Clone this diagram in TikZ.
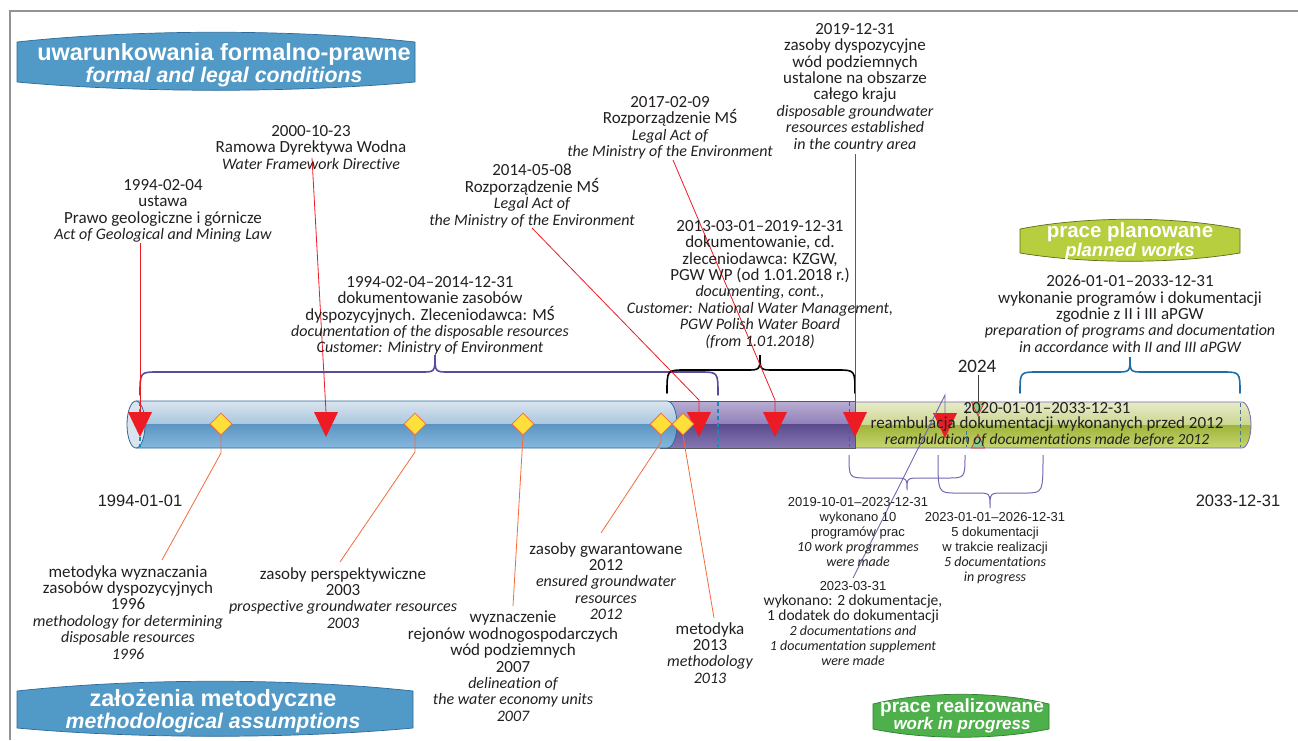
\documentclass[tikz,border=0pt]{standalone}
\usepackage{fontspec}
\setmainfont{Carlito}[Ligatures=NoCommon]
\newfontfamily\arialf{Liberation Sans}
\usetikzlibrary{shapes.geometric}
\definecolor{txtc}{HTML}{231F20}
\definecolor{redc}{HTML}{ED1C24}
\definecolor{yelc}{HTML}{FFE03A}
\definecolor{orgc}{HTML}{F26B3A}
\definecolor{purc}{HTML}{5B4A9E}
\definecolor{lpurc}{HTML}{7566B0}
\definecolor{bluebr}{HTML}{1F6EA6}
\definecolor{ttlblue}{HTML}{5199C6}
\definecolor{ttlblueb}{HTML}{2D6A99}
\definecolor{planc}{HTML}{B7CE3F}
\definecolor{plancb}{HTML}{5E6B1A}
\definecolor{progc}{HTML}{4DB04A}
\definecolor{progcb}{HTML}{2E7D32}
\definecolor{hgc}{HTML}{8CC98A}
\definecolor{bu1}{HTML}{D9E4EE}\definecolor{bu2}{HTML}{A9C6DE}
\definecolor{bl1}{HTML}{5C95C3}\definecolor{bl2}{HTML}{86B8DE}
\definecolor{pu1}{HTML}{B9AED3}\definecolor{pu2}{HTML}{8F80B8}
\definecolor{pl1}{HTML}{5B4C8E}\definecolor{pl2}{HTML}{8676B3}
\definecolor{gu1}{HTML}{E8EBC8}\definecolor{gu2}{HTML}{CBD690}
\definecolor{gl1}{HTML}{9EB43A}\definecolor{gl2}{HTML}{C8D873}
\newcommand\barrelpath[4]{({#1},{#2+11}) .. controls ({#1+0.3*(#3-#1)},{#2-2}) and ({#1+0.7*(#3-#1)},{#2-2}) .. ({#3},{#2+11}) -- ({#3},{#4-9}) .. controls ({#1+0.7*(#3-#1)},{#4+2}) and ({#1+0.3*(#3-#1)},{#4+2}) .. ({#1},{#4-9}) -- cycle}
\newcommand\bracepath[7]{\draw[#1] ({#2},{#5}) .. controls ({#2},{#6}) .. ({#2+18},{#6}) -- ({#4-14},{#6}) .. controls ({#4},{#6}) .. ({#4},{#7}) .. controls ({#4},{#6}) .. ({#4+14},{#6}) -- ({#3-18},{#6}) .. controls ({#3},{#6}) .. ({#3},{#5});}
\newcommand\redtri[2]{\fill[redc] ({#1-12},{#2}) -- ({#1+12},{#2}) -- ({#1},{#2+25}) -- cycle;}
\newcommand\itl[1]{{\fontsize{16}{16.4}\selectfont\itshape #1}}
\newcommand\its[1]{{\fontsize{14}{15}\selectfont\itshape #1}}
\newcommand\ars[1]{{\arialf\fontsize{13}{15}\selectfont #1}}
\begin{document}
\begin{tikzpicture}[x=1pt,y=-1pt,
  lbl/.style={text=txtc, align=center, inner sep=0pt, anchor=north, font=\fontsize{17}{16.4}\selectfont},
  lbls/.style={lbl, font=\fontsize{15.5}{15}\selectfont},
  redln/.style={draw=redc, line width=0.8pt},
  orln/.style={draw=orgc, line width=0.8pt},
  purln/.style={draw=lpurc, line width=0.9pt},
  dia/.style={diamond, fill=yelc, draw=orgc, line width=0.8pt, inner sep=0pt, minimum width=22pt, minimum height=22pt},
  brace/.style={line width=1.6pt, line cap=round},
  ttl/.style={text=white, align=center, inner sep=0pt, font=\arialf\bfseries\fontsize{23.5}{22}\selectfont},
  dline/.style={dashed, dash pattern=on 4pt off 3pt},
]
\useasboundingbox (0,0) rectangle (1298,740);
% frame
\draw[gray!85, line width=1.6pt] (10,740) -- (10,11) -- (1298,11);

% title boxes
\filldraw[fill=ttlblue, draw=ttlblueb, line width=0.7pt] \barrelpath{17}{31}{415}{91};
\node[ttl] (ttlA) at (224,65) {uwarunkowania formalno-prawne\\{\fontsize{21.3}{22}\selectfont\itshape formal and legal conditions}};
\filldraw[fill=ttlblue, draw=ttlblueb, line width=0.7pt] \barrelpath{17}{680}{413}{737};
\node[ttl] (ttlB) at (213,711) {założenia metodyczne\\{\fontsize{21.3}{22}\selectfont\itshape methodological assumptions}};
\filldraw[fill=planc, draw=plancb, line width=0.7pt] \barrelpath{1020}{218}{1240}{262};
\node[ttl, font=\arialf\bfseries\fontsize{20.5}{19.5}\selectfont] (ttlC) at (1130,241.5) {prace planowane\\{\fontsize{18.5}{19.5}\selectfont\itshape planned works}};
\filldraw[fill=progc, draw=progcb, line width=0.7pt] \barrelpath{873}{693}{1049}{738};
\node[ttl, font=\arialf\bfseries\fontsize{19}{17}\selectfont] (ttlD) at (962,716) {prace realizowane\\{\fontsize{17}{17}\selectfont\itshape work in progress}};

% green tube
\begin{scope}
\clip (850,402) -- (1242,402) .. controls (1247,402) and (1251,413) .. (1251,425) .. controls (1251,437) and (1247,448) .. (1242,448) -- (850,448) -- cycle;
\shade[top color=gu1, bottom color=gu2] (840,402) rectangle (1260,425);
\shade[top color=gl1, bottom color=gl2] (840,425) rectangle (1260,449);
\end{scope}
\draw[lpurc, line width=0.8pt] (850,402) -- (1242,402) .. controls (1247,402) and (1251,413) .. (1251,425) .. controls (1251,437) and (1247,448) .. (1242,448) -- (850,448);
% purple tube
\begin{scope}
\clip (660,401) rectangle (855,448);
\shade[top color=pu1, bottom color=pu2] (655,401) rectangle (860,424.5);
\shade[top color=pl1, bottom color=pl2] (655,424.5) rectangle (860,448);
\end{scope}
\draw[gray!70!black, line width=0.8pt] (660,401) -- (855,401) -- (855,448) -- (660,448);
% blue tube
\begin{scope}
\clip (136,401) -- (667,401) .. controls (673,401) and (677,412) .. (677,424.5) .. controls (677,437) and (673,448) .. (667,448) -- (136,448) -- cycle;
\shade[top color=bu1, bottom color=bu2] (130,401) rectangle (680,424.5);
\shade[top color=bl1, bottom color=bl2] (130,424.5) rectangle (680,448);
\end{scope}
\draw[ttlblueb, line width=0.8pt] (136,401) -- (667,401) .. controls (673,401) and (677,412) .. (677,424.5) .. controls (677,437) and (673,448) .. (667,448) -- (136,448);
\filldraw[fill=bu1, draw=ttlblueb, line width=0.8pt] (136,424.5) ellipse [x radius=9, y radius=23.5];

% dashed marks in the tube
\draw[draw=bluebr!80!cyan, line width=1.5pt, dline] (140,402) -- (140,447);
\draw[draw=bluebr!80!cyan, line width=1.5pt, dline] (718,402) -- (718,447);
\draw[draw=bluebr, line width=1pt, dline] (849,402) -- (849,447);
\draw[draw=bluebr!60!gray, line width=1pt, dline] (966,403) -- (966,447);
\draw[draw=bluebr!60!gray, line width=1pt, dline] (1240,403) -- (1240,447);

% braces
\bracepath{brace, purc}{140}{718}{435}{395}{372}{355}
\bracepath{brace, black}{667}{855}{760}{393}{370}{355}
\bracepath{brace, bluebr}{1020}{1240}{1130}{393}{372}{357}
\bracepath{lpurc, line width=1pt}{849}{965}{907}{455}{478}{490}
\bracepath{lpurc, line width=1pt}{938}{1043}{990}{455}{493}{508}

% red triangles (named top points)
\coordinate (t1) at (140,412); \redtri{140}{412}
\coordinate (t2) at (326,412); \redtri{326}{412}
\coordinate (t3) at (699,412); \redtri{699}{412}
\coordinate (t4) at (775,412); \redtri{775}{412}
\coordinate (t5) at (855,412); \redtri{855}{412}
\coordinate (t6) at (945,413); \redtri{945}{413}

% 2024 hourglass
\coordinate (h1) at (978,402);
\filldraw[fill=hgc, draw=redc, line width=0.6pt] (971.5,402) -- (984.5,402) -- (978,416) -- cycle;
\filldraw[fill=hgc, draw=redc, line width=0.6pt] (971.5,448) -- (984.5,448) -- (978,434) -- cycle;

% diamonds
\node[dia] (d1) at (221,424) {};
\node[dia] (d2) at (415,424) {};
\node[dia] (d3) at (523,424) {};
\node[dia] (d4) at (661,424) {};
\node[dia] (d5) at (683,424) {};

% connector end points
\coordinate (a1) at (140,243);
\coordinate (a2) at (312,158);
\coordinate (a3) at (532,228);
\coordinate (a3b) at (699,400);
\coordinate (a4) at (673,160);
\coordinate (a4b) at (775,400);
\coordinate (a5) at (855,154);
\coordinate (a6) at (853,578);
\coordinate (a6b) at (945,395);
\coordinate (a7) at (978,375);
\coordinate (b1k) at (221,453); \coordinate (b1) at (162,560);
\coordinate (b2k) at (415,452); \coordinate (b2) at (340,562);
\coordinate (b3) at (513,606);
\coordinate (b4k) at (661,442); \coordinate (b4) at (601,533);
\coordinate (b5) at (714,618);

\draw[redln] (a1) -- (t1);
\draw[redln] (a2) -- (t2);
\draw[redln] (a3) -- (a3b) -- (t3);
\draw[redln] (a4) -- (a4b) -- (t4);
\draw[redln] (a5) -- (t5);
\draw[gray!50!black, line width=0.8pt] (a7) -- (h1);
\draw[orln] (d1.south) -- (b1k) -- (b1);
\draw[orln] (d2.south) -- (b2k) -- (b2);
\draw[orln] (d3.south) -- (b3);
\draw[orln] (d4.south) -- (b4k) -- (b4);
\draw[orln] (d5.south) -- (b5);

% labels above
\node[lbl] (L1) at (163,179) {1994-02-04\\ustawa\\Prawo geologiczne i górnicze\\\itl{Act of Geological and Mining Law}};
\node[lbl] (L2) at (311,125) {2000-10-23\\Ramowa Dyrektywa Wodna\\\itl{Water Framework Directive}};
\node[lbl] (L3) at (532,164) {2014-05-08\\Rozporządzenie MŚ\\\itl{Legal Act of}\\\itl{the Ministry of the Environment}};
\node[lbl] (L4) at (670,96) {2017-02-09\\Rozporządzenie MŚ\\\itl{Legal Act of}\\\itl{the Ministry of the Environment}};
\node[lbl] (L5) at (855,23) {2019-12-31\\zasoby dyspozycyjne\\wód podziemnych\\ustalone na obszarze\\całego kraju\\\itl{disposable groundwater}\\\itl{resources established}\\\itl{in the country area}};
\node[lbl] (L6) at (430,276) {1994-02-04–2014-12-31\\dokumentowanie zasobów\\dyspozycyjnych. Zleceniodawca: MŚ\\\itl{documentation of the disposable resources}\\\itl{Customer: Ministry of Environment}};
\node[lbl] (L7) at (760,220) {2013-03-01–2019-12-31\\dokumentowanie, cd.\\zleceniodawca: KZGW,\\PGW WP (od 1.01.2018 r.)\\\itl{documenting, cont.,}\\\itl{Customer: National Water Management,}\\\itl{PGW Polish Water Board}\\\itl{(from 1.01.2018)}};
\node[lbl] (L8) at (1130,275) {2026-01-01–2033-12-31\\wykonanie programów i dokumentacji\\zgodnie z II i III aPGW\\\itl{preparation of programs and documentation}\\\itl{in accordance with II and III aPGW}};
\node[lbl, anchor=center, font=\fontsize{19}{19}\selectfont] (L9) at (977,366) {2024};
\node[lbl, anchor=center, font=\fontsize{17}{15}\selectfont] (L10) at (1047,424) {2020-01-01–2033-12-31\\reambulacja dokumentacji wykonanych przed 2012\\[1pt]{\fontsize{15.5}{15}\selectfont\itshape reambulation of documentations made before 2012}};

% purple line to 2023-03-31 (over the labels)
\draw[purln] (a6) -- (a6b) -- (t6);

% dates at ends
\node[lbl, anchor=center, font=\arialf\fontsize{16.5}{18}\selectfont] (E1) at (140,501) {1994-01-01};
\node[lbl, anchor=center, font=\arialf\fontsize{16.5}{18}\selectfont] (E2) at (1238,501) {2033-12-31};

% labels below
\node[lbl] (M1) at (128,565) {metodyka wyznaczania\\zasobów dyspozycyjnych\\1996\\\itl{methodology for determining}\\\itl{disposable resources}\\\itl{1996}};
\node[lbl] (M2) at (343,567) {zasoby perspektywiczne\\2003\\\itl{prospective groundwater resources}\\\itl{2003}};
\node[lbl] (M3) at (513,611) {wyznaczenie\\rejonów wodnogospodarczych\\wód podziemnych\\2007\\\itl{delineation of}\\\itl{the water economy units}\\\itl{2007}};
\node[lbl] (M4) at (606,542) {zasoby gwarantowane\\2012\\\itl{ensured groundwater}\\\itl{resources}\\\itl{2012}};
\node[lbl] (M5) at (710,622) {metodyka\\2013\\\itl{methodology}\\\itl{2013}};
\node[lbls] (P1) at (858,497) {\ars{2019-10-01–2023-12-31}\\\ars{wykonano 10}\\\ars{programów prac}\\\its{10 work programmes}\\\its{were made}};
\node[lbls] (P2) at (995,512) {\ars{2023-01-01–2026-12-31}\\\ars{5 dokumentacji}\\\ars{w trakcie realizacji}\\\its{5 documentations}\\\its{in progress}};
\node[lbls] (P3) at (853,581) {\ars{2023-03-31}\\wykonano: 2 dokumentacje,\\1 dodatek do dokumentacji\\\its{2 documentations and}\\\its{1 documentation supplement}\\\its{were made}};
\end{tikzpicture}
\end{document}
